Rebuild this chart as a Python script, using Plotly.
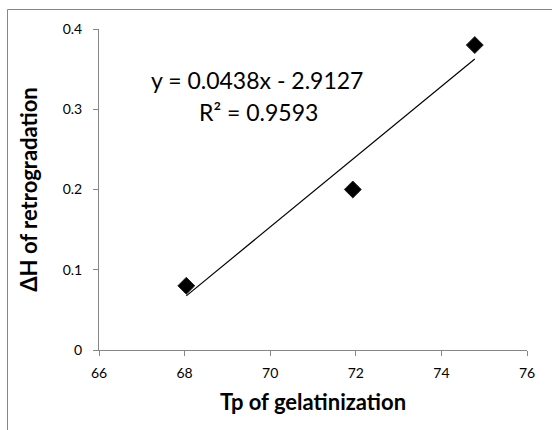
import plotly.graph_objects as go

# Data
tp_gelatinization = [68.04, 71.93, 74.78]
dh_retrogradation = [0.08, 0.20, 0.38]
slope = 0.0438
intercept = -2.9127
r_squared = 0.9593
x_ticks = [66, 68, 70, 72, 74, 76]
y_ticks = [0, 0.1, 0.2, 0.3, 0.4]
y_tick_labels = ["0", "0.1", "0.2", "0.3", "0.4"]

W, H = 552, 430
L, R, T, B = 99, 25, 29, 80
pw, ph = W - L - R, H - T - B

trend_x = [min(tp_gelatinization), max(tp_gelatinization)]
trend_y = [slope * x + intercept for x in trend_x]

fig = go.Figure()
fig.add_trace(go.Scatter(x=trend_x, y=trend_y, mode="lines",
                         line=dict(color="black", width=1.2), hoverinfo="skip"))
fig.add_trace(go.Scatter(x=tp_gelatinization, y=dh_retrogradation, mode="markers",
                         marker=dict(symbol="diamond", size=13, color="black",
                                     line=dict(color="#222", width=1))))

axis_color = "#868686"
fig.update_layout(
    width=W, height=H,
    margin=dict(l=L, r=R, t=T, b=B, autoexpand=False),
    paper_bgcolor="white", plot_bgcolor="white",
    showlegend=False,
    font=dict(family="Lato, 'Open Sans', sans-serif", color="black"),
    xaxis=dict(range=[66, 76], tickvals=x_ticks, showgrid=False, zeroline=False,
               showline=True, linecolor=axis_color, linewidth=1,
               ticks="outside", ticklen=5, tickcolor=axis_color,
               ticklabelstandoff=5,
               tickfont=dict(size=14, color="black"),
               title=dict(text="<b>Tp of gelatinization</b>", font=dict(size=22), standoff=14)),
    yaxis=dict(range=[0, 0.4], tickvals=y_ticks, ticktext=y_tick_labels, showgrid=False,
               zeroline=False, showline=True, linecolor=axis_color, linewidth=1,
               ticks="outside", ticklen=5, tickcolor=axis_color,
               ticklabelstandoff=8,
               tickfont=dict(size=14, color="black"),
               title=dict(text="<b>ΔH of retrogradation</b>", font=dict(size=22), standoff=18)),
)

def px_to_paper_x(px):
    return (px - L) / pw

def px_to_paper_y(py):
    return (H - B - py) / ph

# outer chart frame (partially cropped)
fig.add_shape(type="rect", xref="paper", yref="paper",
              x0=px_to_paper_x(7.5), x1=px_to_paper_x(600),
              y0=px_to_paper_y(480), y1=px_to_paper_y(9.5),
              line=dict(color=axis_color, width=1), layer="below")

fig.add_annotation(xref="paper", yref="paper",
                   x=px_to_paper_x(257), y=px_to_paper_y(80),
                   text=f"y = {slope}x - {abs(intercept)}", showarrow=False,
                   font=dict(size=23, color="black"), xanchor="center", yanchor="middle")
fig.add_annotation(xref="paper", yref="paper",
                   x=px_to_paper_x(258), y=px_to_paper_y(112),
                   text=f"R² = {r_squared}", showarrow=False,
                   font=dict(size=23, color="black"), xanchor="center", yanchor="middle")

fig.write_html("out.html")
